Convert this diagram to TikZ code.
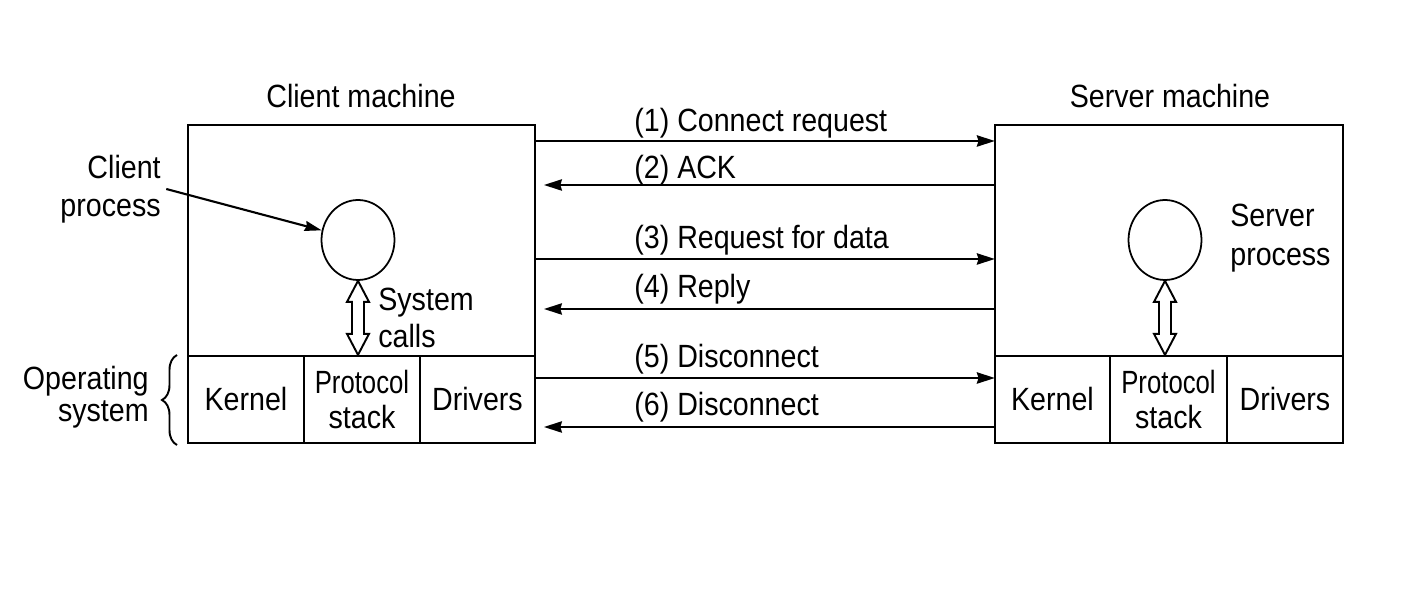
\documentclass[tikz,border=0pt]{standalone}
\usepackage{fontspec}
\setmainfont{Liberation Sans}[FakeStretch=0.89]
\newfontfamily\narrowfont{Liberation Sans}[FakeStretch=0.8]
\usetikzlibrary{shapes.geometric,arrows.meta,decorations.pathreplacing,calc}
\begin{document}
\begin{tikzpicture}[x=0.02cm,y=-0.02cm,
  font=\fontsize{18.3}{20}\selectfont,
  box/.style={draw,line width=1.2pt,inner sep=0pt,outer sep=0pt},
  cell/.style={draw,line width=1.2pt,inner sep=0pt,outer sep=0pt,minimum height=1.74cm,align=center},
  proc/.style={draw,ellipse,line width=1pt,minimum width=1.46cm,minimum height=1.6cm,inner sep=0pt},
  msg/.style={line width=1.7pt,-{Stealth[length=0.36cm,width=0.22cm,inset=0.03cm]}},
  pointer/.style={line width=1.2pt,-{Stealth[length=0.34cm,width=0.2cm,inset=0.03cm]}},
  fat/.style={draw,fill=white,line width=1.1pt,line join=miter},
  lbl/.style={inner sep=0pt,anchor=base west}]
\useasboundingbox (0,0) rectangle (1414,594);

% machines
\node[box,minimum width=6.94cm,minimum height=6.36cm] (cm) at (361.5,284) {};
\node[box,minimum width=6.96cm,minimum height=6.36cm] (sm) at (1169,284) {};

% OS cells client
\node[cell,minimum width=2.32cm] (ck) at (246,399.5) {Kernel};
\node[cell,minimum width=2.32cm] (cp) at (362,399.5) {{\narrowfont Protocol}\\stack};
\node[cell,minimum width=2.30cm] (cd) at (477.5,399.5) {Drivers};
% OS cells server
\node[cell,minimum width=2.30cm] (sk) at (1052.5,399.5) {Kernel};
\node[cell,minimum width=2.34cm] (sp) at (1168.5,399.5) {{\narrowfont Protocol}\\stack};
\node[cell,minimum width=2.32cm] (sd) at (1285,399.5) {Drivers};

% titles
\node (ct) at (361,96) {Client machine};
\node (st) at (1170,96) {Server machine};

% processes
\node[proc] (cc) at (358,240) {};
\node[proc] (sc) at (1165,240) {};

\node[align=right,anchor=east,inner sep=0pt,font=\fontsize{18.3}{21.6}\selectfont] (cpl) at (161,189) {Client\\process};
\draw[pointer] ([xshift=3pt]cpl.east) -- (cc);

\node[align=left,anchor=west,inner sep=0pt,font=\fontsize{18.3}{22}\selectfont] (spl) at (1230,238) {Server\\process};

\node[align=left,anchor=west,inner sep=0pt,font=\fontsize{18.3}{21}\selectfont] (sys) at (378,318) {System\\calls};

% operating system brace
\node[align=right,anchor=east,inner sep=0pt,font=\fontsize{18.3}{18.5}\selectfont] (os) at (149,397) {Operating\\system};
\draw[line width=1.1pt,decorate,decoration={brace,amplitude=0.3cm}] (177,445) -- (177,355);

% system call double arrows
\draw[fat] (cc.south) -- ++(11,21) -- ++(-5,0) -- ++(0,32) -- ++(5,0) -- ++(-11,21)
  -- ++(-11,-21) -- ++(5,0) -- ++(0,-32) -- ++(-5,0) -- cycle;
\draw[fat] (sc.south) -- ++(11,21) -- ++(-5,0) -- ++(0,32) -- ++(5,0) -- ++(-11,21)
  -- ++(-11,-21) -- ++(5,0) -- ++(0,-32) -- ++(-5,0) -- cycle;

% messages
\draw[msg] (cm.east |- 0,141) -- (sm.west |- 0,141);
\draw[msg] (sm.west |- 0,185) -- ([xshift=5pt]cm.east |- 0,185);
\draw[msg] (cm.east |- 0,259) -- (sm.west |- 0,259);
\draw[msg] (sm.west |- 0,309) -- ([xshift=5pt]cm.east |- 0,309);
\draw[msg] (cm.east |- 0,378) -- (sm.west |- 0,378);
\draw[msg] (sm.west |- 0,427) -- ([xshift=5pt]cm.east |- 0,427);

\node[lbl] (m1) at (634,132) {(1) Connect request};
\node[lbl] (m2) at (634,179) {(2) ACK};
\node[lbl] (m3) at (634,249) {(3) Request for data};
\node[lbl] (m4) at (634,298) {(4) Reply};
\node[lbl] (m5) at (634,368) {(5) Disconnect};
\node[lbl] (m6) at (634,416) {(6) Disconnect};
\end{tikzpicture}
\end{document}
